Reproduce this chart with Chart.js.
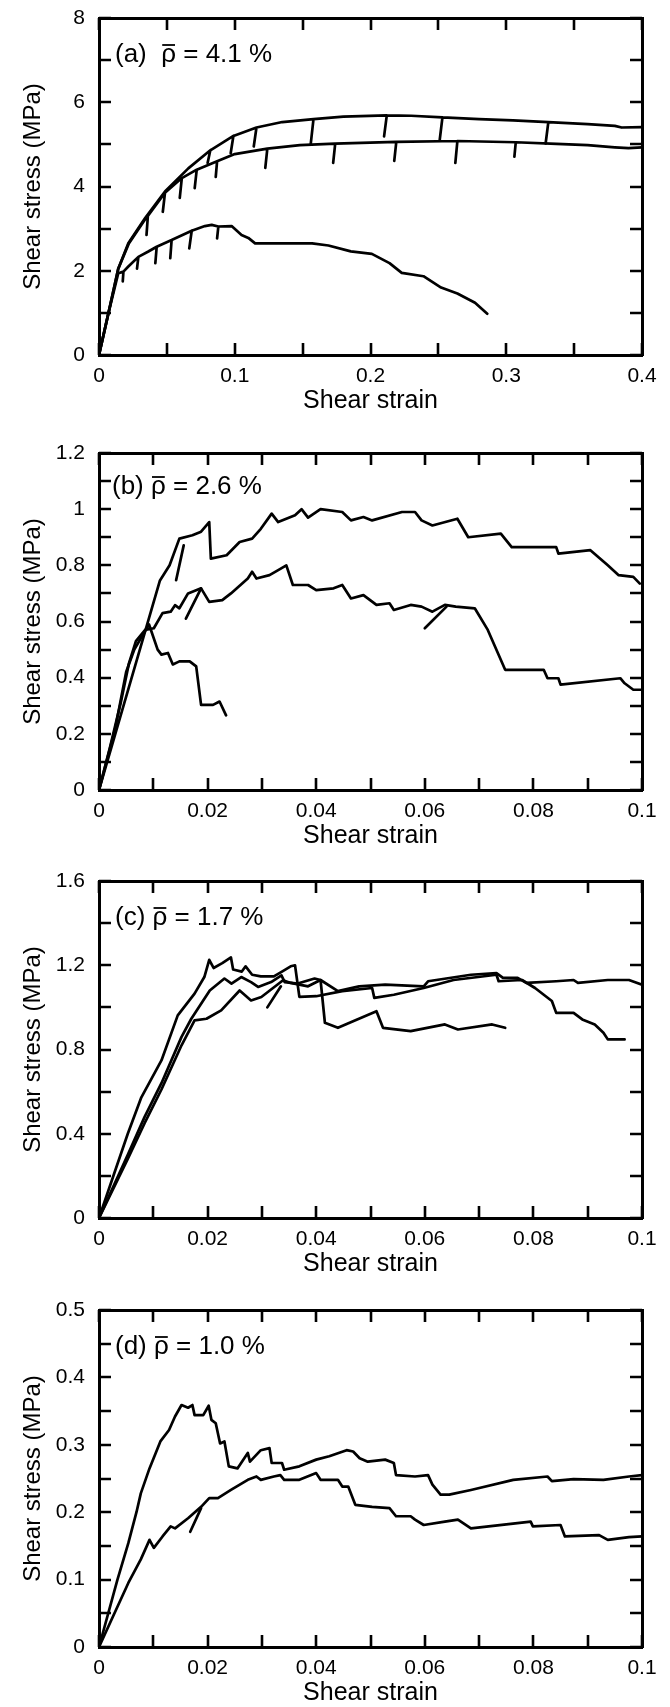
<!DOCTYPE html>
<html>
<head>
<meta charset="utf-8">
<script src="https://cdn.jsdelivr.net/npm/chart.js@4"></script>
<style>
html, body { margin: 0; padding: 0; background: #fff; width: 670px; height: 1707px; overflow: hidden; position: relative; }
canvas { position: absolute; left: 0; }
</style>
</head>
<body>
<canvas id="panelA" width="670" height="430" style="top:0px"></canvas>
<canvas id="panelB" width="670" height="430" style="top:435px"></canvas>
<canvas id="panelC" width="670" height="430" style="top:863px"></canvas>
<canvas id="panelD" width="670" height="430" style="top:1292px"></canvas>
<script>
// (a) rho = 4.1 %
const aX1 = [0, 0.007, 0.0142, 0.0216, 0.034, 0.0486, 0.0658, 0.082, 0.080, 0.082, 0.099, 0.097, 0.099, 0.116, 0.114, 0.116, 0.135, 0.158, 0.156, 0.158, 0.18, 0.212, 0.210, 0.212, 0.23, 0.253, 0.251, 0.253, 0.28, 0.305, 0.331, 0.329, 0.331, 0.36, 0.38, 0.385, 0.4];
const aY1 = [0, 1.0, 2.05, 2.65, 3.25, 3.88, 4.43, 4.86, 4.56, 4.86, 5.2, 4.79, 5.2, 5.4, 4.95, 5.4, 5.53, 5.6, 5.02, 5.6, 5.66, 5.69, 5.19, 5.69, 5.68, 5.64, 5.11, 5.64, 5.6, 5.57, 5.53, 5.02, 5.53, 5.48, 5.44, 5.4, 5.41];
const aX2 = [0, 0.007, 0.0142, 0.022, 0.034, 0.036, 0.035, 0.036, 0.0486, 0.047, 0.0486, 0.061, 0.0595, 0.061, 0.072, 0.0705, 0.072, 0.087, 0.086, 0.087, 0.1, 0.124, 0.1225, 0.124, 0.148, 0.174, 0.1725, 0.174, 0.219, 0.2175, 0.219, 0.264, 0.2625, 0.264, 0.307, 0.306, 0.307, 0.337, 0.36, 0.38, 0.39, 0.4];
const aY2 = [0, 1.0, 2.05, 2.65, 3.22, 3.3, 2.85, 3.3, 3.85, 3.4, 3.85, 4.2, 3.73, 4.2, 4.4, 3.96, 4.4, 4.6, 4.23, 4.6, 4.77, 4.9, 4.44, 4.9, 4.98, 5.02, 4.56, 5.02, 5.06, 4.61, 5.06, 5.08, 4.56, 5.08, 5.05, 4.71, 5.05, 5.01, 4.98, 4.93, 4.91, 4.93];
const aX3 = [0, 0.007, 0.0142, 0.018, 0.0175, 0.018, 0.0216, 0.029, 0.028, 0.029, 0.036, 0.0425, 0.0415, 0.0425, 0.0535, 0.0525, 0.0535, 0.0683, 0.0665, 0.0683, 0.078, 0.083, 0.0879, 0.087, 0.0879, 0.0977, 0.105, 0.11, 0.115, 0.1346, 0.157, 0.169, 0.1855, 0.201, 0.214, 0.223, 0.239, 0.252, 0.264, 0.277, 0.286];
const aY3 = [0, 1.0, 1.94, 1.98, 1.75, 1.98, 2.1, 2.33, 2.05, 2.33, 2.45, 2.57, 2.18, 2.57, 2.73, 2.3, 2.73, 2.95, 2.53, 2.95, 3.06, 3.09, 3.05, 2.77, 3.05, 3.06, 2.85, 2.78, 2.65, 2.65, 2.65, 2.6, 2.46, 2.4, 2.18, 1.95, 1.87, 1.6, 1.46, 1.24, 0.98];

// (b) rho = 2.6 %
const bX1 = [0, 0.0112, 0.013, 0.0148, 0.0172, 0.0188, 0.0203, 0.0206, 0.0235, 0.0259, 0.0282, 0.0298, 0.0318, 0.033, 0.0361, 0.0373, 0.0385, 0.0408, 0.0448, 0.0464, 0.0487, 0.0503, 0.0558, 0.0582, 0.0594, 0.0614, 0.066, 0.068, 0.074, 0.076, 0.0842, 0.0846, 0.0905, 0.0937, 0.0957, 0.0984, 0.0996];
const bY1 = [0, 0.745, 0.80, 0.895, 0.907, 0.92, 0.954, 0.824, 0.836, 0.883, 0.895, 0.93, 0.984, 0.954, 0.978, 1.0, 0.97, 1.0, 0.99, 0.96, 0.972, 0.96, 0.99, 0.99, 0.96, 0.942, 0.966, 0.90, 0.913, 0.865, 0.865, 0.842, 0.854, 0.80, 0.765, 0.759, 0.735];
const bX2 = [0, 0.002, 0.004, 0.0055, 0.0068, 0.0085, 0.0101, 0.0117, 0.0132, 0.014, 0.0148, 0.0164, 0.0188, 0.0203, 0.0227, 0.0243, 0.0274, 0.0282, 0.029, 0.0314, 0.033, 0.0345, 0.0357, 0.0385, 0.04, 0.0432, 0.0448, 0.0464, 0.0487, 0.0511, 0.0535, 0.0543, 0.0574, 0.0594, 0.0614, 0.0637, 0.0657, 0.0692, 0.0716, 0.0748, 0.0819, 0.0826, 0.0846, 0.085, 0.096, 0.0968, 0.0984, 0.1];
const bY2 = [0, 0.15, 0.31, 0.45, 0.53, 0.57, 0.576, 0.63, 0.635, 0.658, 0.647, 0.70, 0.718, 0.67, 0.676, 0.70, 0.753, 0.777, 0.753, 0.765, 0.783, 0.80, 0.73, 0.73, 0.712, 0.718, 0.73, 0.682, 0.694, 0.659, 0.665, 0.641, 0.659, 0.653, 0.635, 0.659, 0.653, 0.647, 0.57, 0.428, 0.428, 0.398, 0.398, 0.375, 0.398, 0.38, 0.357, 0.357];
const bX3 = [0, 0.003, 0.005, 0.0065, 0.008, 0.0092, 0.0108, 0.0115, 0.0127, 0.0136, 0.0148, 0.0167, 0.0179, 0.0188, 0.021, 0.0222, 0.0234];
const bY3 = [0, 0.22, 0.42, 0.5, 0.55, 0.59, 0.50, 0.482, 0.488, 0.447, 0.458, 0.458, 0.44, 0.303, 0.303, 0.315, 0.266];
const bSegX = [0.0142, 0.0156, 0.0156, 0.016, 0.0188, 0.0188, 0.06, 0.064];
const bSegY = [0.747, 0.871, null, 0.61, 0.718, null, 0.576, 0.653];

// (c) rho = 1.7 %
const cX1 = [0, 0.0053, 0.0078, 0.0115, 0.0145, 0.0176, 0.0194, 0.0203, 0.0211, 0.0227, 0.0243, 0.0247, 0.0263, 0.027, 0.0282, 0.0298, 0.0322, 0.0337, 0.0353, 0.0361, 0.0369, 0.04, 0.0448, 0.0503, 0.0507, 0.0543, 0.0598, 0.0653, 0.0732, 0.0736, 0.0779, 0.0803, 0.0834, 0.0842, 0.0874, 0.089, 0.0913, 0.0929, 0.0937, 0.0968];
const cY1 = [0, 0.40, 0.573, 0.748, 0.962, 1.065, 1.144, 1.226, 1.187, 1.21, 1.237, 1.18, 1.17, 1.195, 1.155, 1.147, 1.147, 1.17, 1.195, 1.2, 1.05, 1.053, 1.077, 1.092, 1.045, 1.06, 1.092, 1.13, 1.155, 1.124, 1.13, 1.092, 1.03, 0.974, 0.974, 0.943, 0.919, 0.88, 0.848, 0.848];
const cX2 = [0, 0.0053, 0.0084, 0.0115, 0.0152, 0.017, 0.0204, 0.0231, 0.0244, 0.0262, 0.028, 0.0293, 0.0317, 0.0336, 0.0342, 0.0366, 0.0397, 0.0408, 0.0416, 0.044, 0.0511, 0.0523, 0.0574, 0.0637, 0.0661, 0.0724, 0.0748];
const cY2 = [0, 0.30, 0.48, 0.64, 0.86, 0.946, 1.08, 1.137, 1.113, 1.144, 1.12, 1.097, 1.12, 1.152, 1.12, 1.113, 1.137, 1.13, 0.927, 0.903, 0.982, 0.903, 0.887, 0.919, 0.895, 0.919, 0.903];
const cX3 = [0, 0.0053, 0.0084, 0.0115, 0.0152, 0.0176, 0.0198, 0.0225, 0.0259, 0.028, 0.0299, 0.0339, 0.0353, 0.0385, 0.0408, 0.044, 0.0479, 0.0527, 0.0598, 0.0606, 0.0685, 0.0732, 0.0744, 0.0771, 0.0787, 0.0842, 0.0874, 0.0882, 0.0937, 0.0976, 0.1];
const cY3 = [0, 0.28, 0.45, 0.61, 0.82, 0.938, 0.946, 0.986, 1.08, 1.033, 1.049, 1.129, 1.116, 1.10, 1.13, 1.077, 1.10, 1.108, 1.10, 1.124, 1.155, 1.163, 1.14, 1.14, 1.116, 1.124, 1.13, 1.116, 1.13, 1.13, 1.108];
const cSegX = [0.031, 0.0335];
const cSegY = [1.0, 1.1];

// (d) rho = 1.0 %
const dX1 = [0, 0.0034, 0.0054, 0.0069, 0.0077, 0.0093, 0.0113, 0.0129, 0.014, 0.0152, 0.0164, 0.0172, 0.0176, 0.0192, 0.0202, 0.0207, 0.0215, 0.0223, 0.0231, 0.0239, 0.0255, 0.0274, 0.0278, 0.0298, 0.0314, 0.0318, 0.0337, 0.0341, 0.0369, 0.04, 0.0424, 0.0456, 0.0468, 0.048, 0.0495, 0.0527, 0.0543, 0.0547, 0.0582, 0.0606, 0.0614, 0.0629, 0.0645, 0.0685, 0.0763, 0.0826, 0.0834, 0.0874, 0.0929, 0.0976, 0.1];
const dY1 = [0, 0.1, 0.154, 0.2, 0.228, 0.265, 0.305, 0.322, 0.342, 0.359, 0.355, 0.359, 0.344, 0.344, 0.358, 0.337, 0.332, 0.302, 0.305, 0.268, 0.265, 0.288, 0.275, 0.292, 0.295, 0.273, 0.273, 0.263, 0.268, 0.278, 0.283, 0.292, 0.29, 0.28, 0.275, 0.278, 0.273, 0.255, 0.253, 0.255, 0.241, 0.226, 0.226, 0.233, 0.248, 0.253, 0.246, 0.249, 0.248, 0.253, 0.255];
const dX2 = [0, 0.0054, 0.0077, 0.0093, 0.0101, 0.0117, 0.0132, 0.014, 0.0164, 0.0188, 0.0203, 0.0219, 0.0243, 0.0274, 0.029, 0.0298, 0.0322, 0.0334, 0.0341, 0.0369, 0.04, 0.0408, 0.044, 0.0448, 0.0459, 0.0472, 0.0503, 0.0535, 0.0547, 0.0574, 0.0582, 0.0598, 0.0637, 0.0661, 0.0685, 0.0795, 0.0799, 0.085, 0.0858, 0.0921, 0.0937, 0.0976, 0.1];
const dY2 = [0, 0.095, 0.13, 0.159, 0.147, 0.164, 0.179, 0.176, 0.191, 0.208, 0.221, 0.221, 0.233, 0.248, 0.253, 0.248, 0.253, 0.255, 0.248, 0.248, 0.258, 0.248, 0.248, 0.238, 0.238, 0.211, 0.208, 0.206, 0.194, 0.194, 0.189, 0.181, 0.186, 0.189, 0.176, 0.186, 0.179, 0.181, 0.164, 0.166, 0.159, 0.163, 0.164];
const dSegX = [0.0168, 0.0188];
const dSegY = [0.171, 0.206];

const FONT = '"Liberation Sans", Arial, Helvetica, sans-serif';
const TICK_LEN = 12;
Chart.defaults.font.family = FONT;
Chart.defaults.color = '#000';

function zip(xs, ys) {
    return xs.map((x, i) => ({ x: x, y: ys[i] }));
}

// label only every n-th tick, keep the others as bare tick marks
function labelEvery(n) {
    return function(value) {
        const k = Math.round(value / this.options.ticks.stepSize);
        if (k % n !== 0) return '';
        return String(parseFloat(value.toFixed(4)));
    };
}

// tick marks pointing into the frame, on all four sides
const innerTicks = {
    id: 'innerTicks',
    afterDraw(chart) {
        const ctx = chart.ctx;
        const a = chart.chartArea;
        const sx = chart.scales.x, sy = chart.scales.y;
        ctx.save();
        ctx.strokeStyle = '#000';
        ctx.lineWidth = 2.6;
        ctx.lineCap = 'butt';
        ctx.beginPath();
        sx.ticks.forEach(t => {
            const px = Math.round(sx.getPixelForValue(t.value));
            ctx.moveTo(px, a.bottom);
            ctx.lineTo(px, a.bottom - TICK_LEN);
            ctx.moveTo(px, a.top);
            ctx.lineTo(px, a.top + TICK_LEN);
        });
        sy.ticks.forEach(t => {
            const py = Math.round(sy.getPixelForValue(t.value));
            ctx.moveTo(a.left, py);
            ctx.lineTo(a.left + TICK_LEN, py);
            ctx.moveTo(a.right, py);
            ctx.lineTo(a.right - TICK_LEN, py);
        });
        ctx.stroke();
        ctx.restore();
    }
};

// "(a) rho-bar = 4.1 %" inside the frame
const tagPlugin = {
    id: 'tag',
    afterDraw(chart, args, opts) {
        const { ctx, chartArea } = chart;
        ctx.save();
        ctx.font = '26px ' + FONT;
        ctx.fillStyle = '#000';
        ctx.strokeStyle = '#000';
        ctx.textBaseline = 'middle';
        let x = chartArea.left + opts.dx;
        const y = chartArea.top + opts.dy;
        const head = opts.tag + opts.gap;
        ctx.fillText(head, x, y);
        x += ctx.measureText(head).width;
        const rw = ctx.measureText('\u03C1').width;
        ctx.fillText('\u03C1', x, y);
        ctx.lineWidth = 1.8;
        ctx.beginPath();
        ctx.moveTo(x + 1, y - 10);
        ctx.lineTo(x + rw - 1, y - 10);
        ctx.stroke();
        x += rw;
        ctx.fillText(' = ' + opts.val + ' %', x, y);
        ctx.restore();
    }
};

function noPad(scale) {
    scale.paddingLeft = 0;
    scale.paddingRight = 0;
    scale.paddingTop = 0;
    scale.paddingBottom = 0;
}

function makePanel(id, series, xMax, xStep, yMax, yStep, tag) {
    const gridOpts = { display: false, drawTicks: false, drawOnChartArea: false };
    const borderOpts = { color: '#000', width: 3 };
    new Chart(document.getElementById(id), {
        type: 'scatter',
        data: {
            datasets: series.map(s => ({
                data: s,
                showLine: true,
                borderColor: '#000',
                borderWidth: 2.7,
                borderJoinStyle: 'round',
                borderCapStyle: 'round',
                pointRadius: 0,
                fill: false,
                tension: 0
            }))
        },
        options: {
            responsive: false,
            animation: false,
            events: [],
            layout: { padding: { top: 18, right: 28, left: 0, bottom: 0 } },
            plugins: { legend: { display: false }, tooltip: { enabled: false }, tag: tag },
            scales: {
                x: {
                    type: 'linear', position: 'bottom', min: 0, max: xMax,
                    ticks: { stepSize: xStep, autoSkip: false, maxRotation: 0, padding: 9, font: { size: 21 }, callback: labelEvery(2) },
                    grid: gridOpts, border: borderOpts,
                    title: { display: true, text: 'Shear strain', font: { size: 25 }, padding: { top: 0, bottom: 14 } },
                    afterFit: s => { s.height = 75; noPad(s); }
                },
                y: {
                    type: 'linear', position: 'left', min: 0, max: yMax,
                    ticks: { stepSize: yStep, autoSkip: false, padding: 14, font: { size: 21 }, callback: labelEvery(2) },
                    grid: gridOpts, border: borderOpts,
                    title: { display: true, text: 'Shear stress (MPa)', font: { size: 24 }, padding: { top: 19, bottom: 0 } },
                    afterFit: s => { s.width = 99; noPad(s); }
                },
                x2: {
                    type: 'linear', position: 'top', min: 0, max: xMax,
                    ticks: { stepSize: xStep, display: false },
                    grid: gridOpts, border: borderOpts,
                    afterFit: s => { s.height = 0; noPad(s); }
                },
                y2: {
                    type: 'linear', position: 'right', min: 0, max: yMax,
                    ticks: { stepSize: yStep, display: false },
                    grid: gridOpts, border: borderOpts,
                    afterFit: s => { s.width = 0; noPad(s); }
                }
            }
        },
        plugins: [innerTicks, tagPlugin]
    });
}

makePanel('panelA', [zip(aX1, aY1), zip(aX2, aY2), zip(aX3, aY3)], 0.4, 0.05, 8, 1,
    { tag: '(a)', gap: '  ', val: '4.1', dx: 16, dy: 37 });
makePanel('panelB', [zip(bX1, bY1), zip(bX2, bY2), zip(bX3, bY3), zip(bSegX, bSegY)], 0.1, 0.01, 1.2, 0.1,
    { tag: '(b)', gap: ' ', val: '2.6', dx: 13, dy: 34 });
makePanel('panelC', [zip(cX1, cY1), zip(cX2, cY2), zip(cX3, cY3), zip(cSegX, cSegY)], 0.1, 0.01, 1.6, 0.2,
    { tag: '(c)', gap: ' ', val: '1.7', dx: 16, dy: 37 });
makePanel('panelD', [zip(dX1, dY1), zip(dX2, dY2), zip(dSegX, dSegY)], 0.1, 0.01, 0.5, 0.05,
    { tag: '(d)', gap: ' ', val: '1.0', dx: 16, dy: 37 });
</script>
</body>
</html>
